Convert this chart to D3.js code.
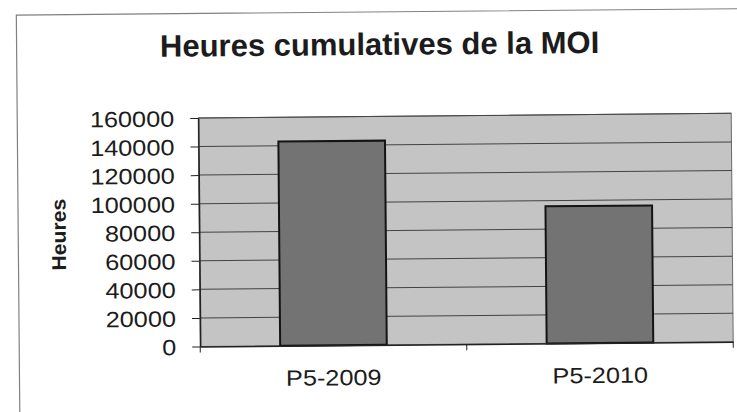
<!DOCTYPE html>
<html>
<head>
<meta charset="utf-8">
<script src="https://cdn.jsdelivr.net/npm/d3@7"></script>
<style>
  body { margin: 0; background: #fff; }
  svg { display: block; font-family: "Liberation Sans", Arial, sans-serif; }
  .axis path, .axis line { stroke: #222; }
  .axis text { fill: #1c1c1c; font-size: 22px; }
</style>
</head>
<body>
<div id="chart"></div>
<script>
// data
var categories = ["P5-2009", "P5-2010"];
var hours = [143000, 96000];
var yTicks = [0, 20000, 40000, 60000, 80000, 100000, 120000, 140000, 160000];
var title = "Heures cumulatives de la MOI";
var yTitle = "Heures";

var W = 737, H = 412;
var plot = {left: 199, right: 732, top: 116.5, bottom: 345};
var textStretch = 1.15; // fonts are wider than tall in the scan

var svg = d3.select("#chart").append("svg")
  .attr("width", W)
  .attr("height", H);

// the scanned page is slightly tilted
var g = svg.append("g")
  .attr("transform", "rotate(-0.5, 368, 206)");

// outer chart frame (runs off the page right and bottom)
g.append("rect")
  .attr("x", 18)
  .attr("y", 12)
  .attr("width", 780)
  .attr("height", 440)
  .attr("fill", "none")
  .attr("stroke", "#808080")
  .attr("stroke-width", 1.2);

var x = d3.scaleBand()
  .domain(categories)
  .range([plot.left, plot.right])
  .paddingInner(0.6)
  .paddingOuter(0.3);

var y = d3.scaleLinear()
  .domain([0, 160000])
  .range([plot.bottom, plot.top]);

// plot area
g.append("rect")
  .attr("x", plot.left)
  .attr("y", plot.top)
  .attr("width", plot.right - plot.left)
  .attr("height", plot.bottom - plot.top)
  .attr("fill", "#c4c4c4")
  .attr("stroke", "#6a6a6a")
  .attr("stroke-width", 1);

// gridlines
g.selectAll(".grid")
  .data(yTicks.filter(function(d){ return d > 0; }))
  .enter()
  .append("line")
  .attr("class", "grid")
  .attr("x1", plot.left)
  .attr("x2", plot.right)
  .attr("y1", function(d){ return y(d); })
  .attr("y2", function(d){ return y(d); })
  .attr("stroke", "#444")
  .attr("stroke-width", 1);

// bars
g.selectAll(".bar")
  .data(hours)
  .enter()
  .append("rect")
  .attr("class", "bar")
  .attr("x", function(d, i){ return x(categories[i]); })
  .attr("width", x.bandwidth())
  .attr("y", function(d){ return y(d); })
  .attr("height", function(d){ return y(0) - y(d); })
  .attr("fill", "#737373")
  .attr("stroke", "#141414")
  .attr("stroke-width", 2);

// y axis
var yAxis = d3.axisLeft(y)
  .tickValues(yTicks)
  .tickFormat(d3.format("d"))
  .tickSize(8)
  .tickPadding(16)
  .tickSizeOuter(0);

var yg = g.append("g")
  .attr("class", "y axis")
  .attr("transform", "translate(" + plot.left + ",0)")
  .call(yAxis);

yg.select(".domain").attr("stroke-width", 1.5);
yg.selectAll(".tick text")
  .attr("x", 0)
  .attr("dy", "0.36em")
  .attr("transform", "translate(-24,0) scale(" + textStretch + ",1)");

// x axis, labels at band centres
var xAxis = d3.axisBottom(x)
  .tickSize(0)
  .tickPadding(24.4)
  .tickSizeOuter(0);

var xg = g.append("g")
  .attr("class", "x axis")
  .attr("transform", "translate(0," + plot.bottom + ")")
  .call(xAxis);

xg.select(".domain").attr("stroke-width", 1.5);
xg.selectAll(".tick text")
  .attr("transform", "scale(" + textStretch + ",1)");

// category boundary ticks
var step = x.step();
var bounds = categories.map(function(d){ return x(d) - step * x.paddingInner() / 2; });
bounds[0] = x(categories[0]) - step * x.paddingOuter();
bounds.push(x(categories[categories.length - 1]) + x.bandwidth() + step * x.paddingOuter());

xg.selectAll(".bound")
  .data(bounds)
  .enter()
  .append("line")
  .attr("class", "bound")
  .attr("x1", function(d){ return d; })
  .attr("x2", function(d){ return d; })
  .attr("y1", 0)
  .attr("y2", 6)
  .attr("stroke", "#222")
  .attr("stroke-width", 1);

// titles
g.append("text")
  .attr("x", 381)
  .attr("y", 55)
  .attr("text-anchor", "middle")
  .attr("font-size", 31)
  .attr("font-weight", "bold")
  .attr("fill", "#1c1c1c")
  .text(title);

g.append("text")
  .attr("transform", "translate(65.5,232) rotate(-90) scale(1.06,1)")
  .attr("text-anchor", "middle")
  .attr("font-size", 20)
  .attr("font-weight", "bold")
  .attr("fill", "#1c1c1c")
  .text(yTitle);
</script>
</body>
</html>
